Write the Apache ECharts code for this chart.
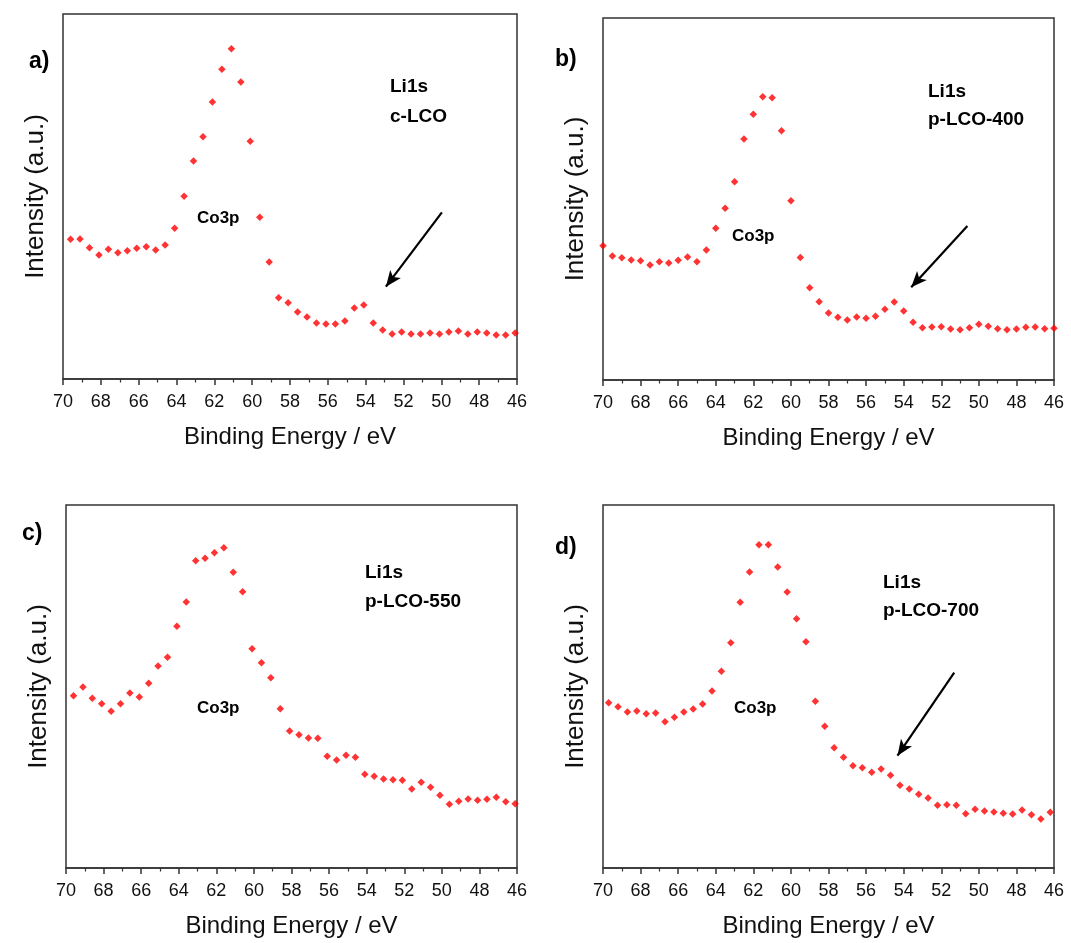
<!DOCTYPE html>
<html>
<head>
<meta charset="utf-8">
<script src="https://cdn.jsdelivr.net/npm/echarts@6/dist/echarts.min.js"></script>
<style>
html,body{margin:0;padding:0;background:#fff;}
#chart{width:1071px;height:943px;}
</style>
</head>
<body>
<div id="chart"></div>
<script>
// Binding energies (eV) of each spectrum's points
const energyA = [69.6,69.1,68.6,68.1,67.6,67.1,66.6,66.1,65.6,65.1,64.6,64.1,63.6,63.1,62.6,62.1,61.6,61.1,60.6,60.1,59.6,59.1,58.6,58.1,57.6,57.1,56.6,56.1,55.6,55.1,54.6,54.1,53.6,53.1,52.6,52.1,51.6,51.1,50.6,50.1,49.6,49.1,48.6,48.1,47.6,47.1,46.6,46.1];
const energyB = [70.0,69.5,69.0,68.5,68.0,67.5,67.0,66.5,66.0,65.5,65.0,64.5,64.0,63.5,63.0,62.5,62.0,61.5,61.0,60.5,60.0,59.5,59.0,58.5,58.0,57.5,57.0,56.5,56.0,55.5,55.0,54.5,54.0,53.5,53.0,52.5,52.0,51.5,51.0,50.5,50.0,49.5,49.0,48.5,48.0,47.5,47.0,46.5,46.0];
const energyC = [69.6,69.1,68.6,68.1,67.6,67.1,66.6,66.1,65.6,65.1,64.6,64.1,63.6,63.1,62.6,62.1,61.6,61.1,60.6,60.1,59.6,59.1,58.6,58.1,57.6,57.1,56.6,56.1,55.6,55.1,54.6,54.1,53.6,53.1,52.6,52.1,51.6,51.1,50.6,50.1,49.6,49.1,48.6,48.1,47.6,47.1,46.6,46.1];
const energyD = [69.7,69.2,68.7,68.2,67.7,67.2,66.7,66.2,65.7,65.2,64.7,64.2,63.7,63.2,62.7,62.2,61.7,61.2,60.7,60.2,59.7,59.2,58.7,58.2,57.7,57.2,56.7,56.2,55.7,55.2,54.7,54.2,53.7,53.2,52.7,52.2,51.7,51.2,50.7,50.2,49.7,49.2,48.7,48.2,47.7,47.2,46.7,46.2];

// Intensities (a.u.)
const intensityA = [139.7,140,131.3,124,129.7,126.3,128.3,130.7,132.3,129,134,150.7,182.7,218,242.3,277,309.7,330.3,297,237.7,161.7,117,81.3,76.3,67,62,56,55,55,58,71,74,56,49,45,47,45,45,46,45,47,48,45,47,46,44,44,46];
const intensityB = [134.3,124,122.3,120,119.3,115,118.3,117,119.7,123,118.3,130,151.7,171.7,198.3,241,265.7,283.3,282.3,249.3,179.3,122.5,92.3,78.3,67,62.7,60,63,61.7,63.7,70.7,78,69,57.7,52.3,53,53.3,51,50.3,52.3,55.7,53.7,51.3,50.3,51,52.7,53,51.3,51.7];
const intensityC = [172.3,181,169.7,164.3,156.7,164.3,175,171,184.7,202,210.7,241.7,266,307.3,309.7,315.3,320.3,295.7,276.3,219.3,205.3,190.3,159.3,137,133.3,130,129.7,111.7,108,112.7,110.7,93.7,91.7,89,88.3,87.7,79,85.7,80.7,72.7,63.7,66.7,69,67.7,68.7,70.7,66.3,64.3];
const intensityD = [165.3,161.3,156,157,154.3,155,146.3,150.7,156,159,164,177,196.7,225.3,265.7,296,323.3,323.3,301,276,249.3,226.3,166.7,141.7,120.3,110.7,102.3,100.3,95.7,99,92.7,82.7,79,73.7,70,62.7,63.3,62.7,54.3,58.7,57,56,54.7,54,58,53.3,49,55.7];

// Arrow annotations [from, to] in data units (eV, a.u.)
const arrowA = [[49.97,166.7],[52.93,92.3]];
const arrowB = [[50.61,154],[53.6,92.7]];
const arrowD = [[51.31,195.3],[54.33,112.3]];

const xTicks = {min:46, max:70, interval:2};
const panelLetters = ['a)','b)','c)','d)'];
const sampleNames = ['c-LCO','p-LCO-400','p-LCO-550','p-LCO-700'];
const coreLevel = 'Li1s';
const peakLabel = 'Co3p';
const xName = 'Binding Energy / eV';
const yName = 'Intensity (a.u.)';

const FONT = 'Liberation Sans, Arial, Helvetica, sans-serif';

const panels = [
  {grid:{left:63, top:14, width:454, height:365}, yMax:365, e:energyA, v:intensityA, arrow:arrowA},
  {grid:{left:603, top:18, width:451, height:362}, yMax:362, e:energyB, v:intensityB, arrow:arrowB},
  {grid:{left:66, top:505, width:451, height:363}, yMax:363, e:energyC, v:intensityC, arrow:null},
  {grid:{left:603, top:505, width:451, height:363}, yMax:363, e:energyD, v:intensityD, arrow:arrowD}
];

const grids = [], xAxes = [], yAxes = [], series = [];
panels.forEach((p, i) => {
  grids.push(Object.assign({show:true, borderColor:'#333', borderWidth:1.5, backgroundColor:'#fff'}, p.grid));
  xAxes.push({
    type:'value', gridIndex:i, inverse:true,
    min:xTicks.min, max:xTicks.max, interval:xTicks.interval,
    name:xName, nameLocation:'middle', nameGap:46,
    nameTextStyle:{fontFamily:FONT, fontSize:24, color:'#111'},
    axisLine:{show:true, onZero:false, lineStyle:{color:'#333', width:1.5}},
    axisTick:{show:true, inside:false, length:6, lineStyle:{color:'#333', width:1.5}},
    minorTick:{show:true, splitNumber:2, length:3.5, lineStyle:{color:'#333', width:1.2}},
    axisLabel:{fontFamily:FONT, fontSize:18, color:'#111', margin:14},
    splitLine:{show:false}
  });
  yAxes.push({
    type:'value', gridIndex:i, min:0, max:p.yMax,
    name:yName, nameLocation:'middle', nameGap:14, nameRotate:90,
    nameTextStyle:{fontFamily:FONT, fontSize:26, color:'#111'},
    axisLine:{show:false}, axisTick:{show:false}, axisLabel:{show:false}, splitLine:{show:false}
  });
  const s = {
    type:'scatter', xAxisIndex:i, yAxisIndex:i,
    data:p.e.map((x, k) => [x, p.v[k]]),
    symbol:'diamond', symbolSize:7.5,
    itemStyle:{color:'#ff0000'},
    clip:true, silent:true
  };
  if (p.arrow) {
    s.markLine = {
      silent:true, symbol:['none','arrow'], symbolSize:[10,16],
      lineStyle:{color:'#000', width:2.2, type:'solid'},
      label:{show:false},
      data:[[{coord:p.arrow[0]},{coord:p.arrow[1]}]]
    };
  }
  series.push(s);
});

function txt(x, y, text, size, bold) {
  return {type:'text', x:x, y:y, z:100, style:{text:text, fill:'#000',
    font:(bold?'bold ':'') + size + 'px ' + FONT, textAlign:'left', textVerticalAlign:'middle'}};
}
const graphic = [
  txt(29, 62, panelLetters[0], 23, true),
  txt(555, 60, panelLetters[1], 23, true),
  txt(22, 534, panelLetters[2], 23, true),
  txt(555, 548, panelLetters[3], 23, true),
  txt(390, 87, coreLevel, 19, true), txt(390, 117, sampleNames[0], 19, true),
  txt(928, 92, coreLevel, 19, true), txt(928, 120, sampleNames[1], 19, true),
  txt(365, 573, coreLevel, 19, true), txt(365, 602, sampleNames[2], 19, true),
  txt(883, 583, coreLevel, 19, true), txt(883, 611, sampleNames[3], 19, true),
  txt(197, 218, peakLabel, 17, true),
  txt(732, 236, peakLabel, 17, true),
  txt(197, 708, peakLabel, 17, true),
  txt(734, 708, peakLabel, 17, true)
];

const chart = echarts.init(document.getElementById('chart'), null, {renderer:'canvas'});
chart.setOption({
  backgroundColor:'#fff',
  animation:false,
  grid:grids, xAxis:xAxes, yAxis:yAxes, series:series, graphic:graphic
});
</script>
</body>
</html>
